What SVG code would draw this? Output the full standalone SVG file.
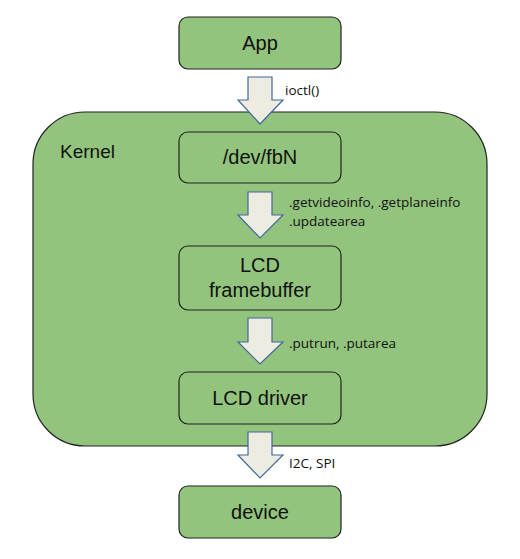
<svg xmlns="http://www.w3.org/2000/svg" width="520" height="559" viewBox="0 0 520 559">
<style>
.box{fill:#93c47d;stroke:#222;stroke-width:1.2}
.lbl{font-family:"Liberation Sans",Arial,sans-serif;font-size:20px;fill:#111;text-anchor:middle}
.arr{fill:#eeece1;stroke:#41689a;stroke-width:1.2;stroke-linejoin:miter}
.sm{font-family:"Open Sans","Noto Sans",sans-serif;font-size:13.5px;fill:#111}
</style>
<rect width="520" height="559" fill="#fff"/>
<g id="kernel">
<rect class="box" x="33" y="112" width="454" height="334" rx="52" ry="52"/>
<text x="60" y="158" font-family="Liberation Sans,Arial,sans-serif" font-size="19" fill="#111">Kernel</text>
</g>
<g id="app">
<rect class="box" x="179" y="17" width="162" height="52" rx="9"/>
<text class="lbl" x="260" y="50">App</text>
</g>
<g id="devfb">
<rect class="box" x="179" y="132" width="162" height="51" rx="9"/>
<text class="lbl" x="260" y="164">/dev/fbN</text>
</g>
<g id="framebuffer">
<rect class="box" x="179" y="246" width="162" height="64" rx="9"/>
<text class="lbl" x="260" y="272">LCD</text>
<text class="lbl" x="260" y="297">framebuffer</text>
</g>
<g id="driver">
<rect class="box" x="179" y="372" width="162" height="52" rx="9"/>
<text class="lbl" x="260" y="405">LCD driver</text>
</g>
<g id="device">
<rect class="box" x="179" y="486" width="162" height="52" rx="9"/>
<text class="lbl" x="260" y="519">device</text>
</g>
<g id="connectors">
<path class="arr" d="M248,77 H272 V100 H283 L260,124 L238,100 H248 Z"/>
<text class="sm" x="285" y="95">ioctl()</text>
<path class="arr" d="M248,192 H272 V215 H283 L260,238 L238,215 H248 Z"/>
<text class="sm" x="289" y="207">.getvideoinfo, .getplaneinfo</text>
<text class="sm" x="289" y="226">.updatearea</text>
<path class="arr" d="M248,318 H272 V342 H283 L260,364 L238,342 H248 Z"/>
<text class="sm" x="289" y="348">.putrun, .putarea</text>
<path class="arr" d="M248,432 H272 V455 H283 L260,478 L238,455 H248 Z"/>
<text class="sm" x="289" y="468">I2C, SPI</text>
</g>
</svg>
